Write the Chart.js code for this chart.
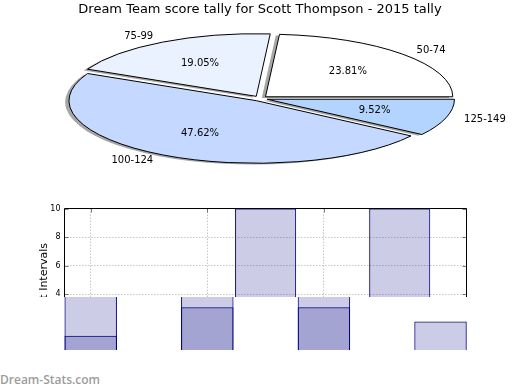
<!DOCTYPE html>
<html>
<head>
<meta charset="utf-8">
<title>Dream Team score tally</title>
<script src="https://cdn.jsdelivr.net/npm/chart.js@4.4.1/dist/chart.umd.min.js"></script>
<style>
    html, body { margin: 0; padding: 0; background: #fff; }
    #page { position: relative; width: 520px; height: 390px; overflow: hidden; }
    #page canvas { position: absolute; left: 0; }
    #pieChart { top: 0; }
    #countChart { top: 200px; }
    #overlapChart { top: 297px; background-color: #fff; }
    #watermark {
        position: absolute; left: 0; top: 373px;
        font: 600 12px "Open Sans", sans-serif; line-height: 14px; color: #9c9c9c;
    }
</style>
</head>
<body>
<div id="page">
    <canvas id="pieChart" width="520" height="185"></canvas>
    <canvas id="countChart" width="520" height="170"></canvas>
    <canvas id="overlapChart" width="520" height="68"></canvas>
    <div id="watermark">Dream-Stats.com</div>
</div>
<script>
//################# Chart values #################
const chartTitle = 'Dream Team score tally for Scott Thompson - 2015 tally';
const scoreBands = ['50-74', '75-99', '100-124', '125-149'];
const bandTally = [5, 4, 10, 2];        // games per score band (pie + light bars)
const overlapTally = [1, 3, 3, 0];      // second histogram layer (darker overlap)
const bandSlots = [1, 2, 3, 4];         // where each band sits on the bar x axis
const upperSlots = [2.5, 3.65];         // the two tall bars in the upper panel
const upperTally = [10, 10];
const gridSlots = [1, 2, 3];            // vertical dotted grid lines
const countTicks = [0, 2, 4, 6, 8, 10];
const countAxisTitle = 'Count Intervals';

//################# Styles #################
const sliceColors = ['#ffffff', '#eaf1ff', '#c5d8ff', '#b3d4ff'];
const BAR_FILL = 'rgba(0, 0, 128, 0.2)';
const BAR_EDGE = '#000080';
const GRID = 'rgba(0, 0, 0, 0.22)';

const PIE_RADIUS = 187.3;
const PIE_SQUASH = 62.6 / 187.3;   // height / width of the flattened pie
const PIE_EXPLODE = 7.5;           // px every slice is pushed out
const SHADOW_SHIFT = 0.02;         // shadow offset, part of the radius

Chart.defaults.font.family = '"DejaVu Sans", sans-serif';
Chart.defaults.color = '#000';
Chart.defaults.animation = false;
Chart.defaults.responsive = false;
Chart.defaults.devicePixelRatio = 1;
Chart.defaults.events = [];
Chart.defaults.plugins.legend.display = false;
Chart.defaults.plugins.tooltip.enabled = false;

//################# Flattened, exploded pie with shadow #################
const pieCenterY = chart => (chart.chartArea.top + chart.chartArea.bottom) / 2;

function squash(ctx, cy) {
    ctx.translate(0, cy);
    ctx.scale(1, PIE_SQUASH);
    ctx.translate(0, -cy);
}

const flatPie = {
    id: 'flatPie',
    afterDatasetUpdate(chart) {
        chart.getDatasetMeta(0).data.forEach(arc => {
            const mid = (arc.startAngle + arc.endAngle) / 2;
            arc.x += Math.cos(mid) * PIE_EXPLODE;
            arc.y += Math.sin(mid) * PIE_EXPLODE;
        });
    },
    beforeDatasetsDraw(chart) {
        const ctx = chart.ctx;
        const cy = pieCenterY(chart);
        const base = ctx.getTransform();

        // shadow pass, below every slice
        ctx.save();
        squash(ctx, cy);
        ctx.translate(-SHADOW_SHIFT * PIE_RADIUS, SHADOW_SHIFT * PIE_RADIUS);
        chart.getDatasetMeta(0).data.forEach(arc => {
            const opts = arc.options;
            arc.options = Object.assign({}, opts, { backgroundColor: 'rgba(77, 77, 77, 0.5)', borderWidth: 0 });
            arc.draw(ctx);
            arc.options = opts;
        });
        ctx.restore();

        // slices are squashed, but outlines are stroked unscaled so they stay 1px
        ctx.save();
        squash(ctx, cy);
        ctx.stroke = function () {
            this.save();
            this.setTransform(base);
            CanvasRenderingContext2D.prototype.stroke.call(this);
            this.restore();
        };
    },
    afterDatasetsDraw(chart) {
        delete chart.ctx.stroke;
        chart.ctx.restore();
    },
    afterDraw(chart) {
        const ctx = chart.ctx;
        const cy = pieCenterY(chart);
        const meta = chart.getDatasetMeta(0);
        const values = chart.data.datasets[0].data;
        const total = values.reduce((a, b) => a + b, 0);

        ctx.save();
        ctx.font = '10px "DejaVu Sans"';
        ctx.fillStyle = '#000';
        ctx.textBaseline = 'middle';
        meta.data.forEach((arc, i) => {
            const mid = (arc.startAngle + arc.endAngle) / 2;
            const at = f => [
                arc.x + Math.cos(mid) * arc.outerRadius * f,
                cy + (arc.y + Math.sin(mid) * arc.outerRadius * f - cy) * PIE_SQUASH,
            ];
            let [x, y] = at(0.6);
            ctx.textAlign = 'center';
            ctx.fillText((values[i] / total * 100).toFixed(2) + '%', x, y);
            [x, y] = at(1.1);
            ctx.textAlign = Math.cos(mid) > 0 ? 'left' : 'right';
            ctx.fillText(chart.data.labels[i], x, y);
        });
        ctx.restore();
    },
};

// matplotlib goes counter-clockwise from 3 o'clock, Chart.js clockwise: reverse the order
new Chart(document.getElementById('pieChart'), {
    type: 'pie',
    data: {
        labels: scoreBands.slice().reverse(),
        datasets: [{
            data: bandTally.slice().reverse(),
            backgroundColor: sliceColors.slice().reverse(),
            borderColor: '#000',
            borderWidth: 1,
            radius: PIE_RADIUS,
            rotation: 90,
            clip: false,
        }],
    },
    options: {
        layout: { padding: { bottom: 8.6 } },
        plugins: {
            title: {
                display: true,
                text: chartTitle,
                color: '#000',
                font: { size: 13, weight: 'normal' },
                padding: { top: 2, bottom: 3 },
            },
        },
    },
    plugins: [flatPie],
});

//################# Upper bar panel with its axes #################
const axesFrame = {
    id: 'axesFrame',
    afterDraw(chart) {
        const { ctx, chartArea: a, scales } = chart;
        const left = a.left + 0.5, right = a.right - 0.5, top = a.top;
        ctx.save();
        ctx.strokeStyle = '#000';
        ctx.lineWidth = 1;
        ctx.beginPath();
        ctx.moveTo(left, a.bottom);
        ctx.lineTo(left, top);
        ctx.lineTo(right, top);
        ctx.lineTo(right, a.bottom);
        ctx.stroke();

        // short inward tick marks
        ctx.strokeStyle = 'rgba(0, 0, 0, 0.5)';
        ctx.beginPath();
        scales.y.ticks.forEach(t => {
            const y = Math.round(scales.y.getPixelForValue(t.value)) + 0.5;
            ctx.moveTo(left, y); ctx.lineTo(left + 4, y);
            ctx.moveTo(right, y); ctx.lineTo(right - 4, y);
        });
        scales.x.ticks.forEach(t => {
            const x = Math.round(scales.x.getPixelForValue(t.value)) + 0.5;
            ctx.moveTo(x, top); ctx.lineTo(x, top + 4);
        });
        ctx.stroke();
        ctx.restore();
    },
};

const slotAxis = (ticks) => ({
    type: 'linear',
    min: 0.771,
    max: 4.227,
    offset: false,
    afterBuildTicks: s => { s.ticks = ticks.map(v => ({ value: v })); },
});

// the axis runs a little below zero; that part sits under the lower strip,
// and it centres the (cut off) axis title where the original has it
new Chart(document.getElementById('countChart'), {
    type: 'bar',
    data: {
        datasets: [{
            data: upperSlots.map((x, i) => ({ x, y: upperTally[i] })),
            backgroundColor: BAR_FILL,
            borderColor: BAR_EDGE,
            borderWidth: 1,
            barPercentage: 0.524,
            categoryPercentage: 1,
            clip: 0,
        }],
    },
    options: {
        layout: { padding: { left: 0, right: 53, top: 8.5, bottom: 8.5 } },
        scales: {
            x: Object.assign(slotAxis(gridSlots), {
                z: 1,
                afterFit: s => { s.height = 0; },
                ticks: { display: false },
                grid: { color: GRID, drawTicks: false, offset: false },
                border: { display: false, dash: [1.5, 1.5] },
            }),
            y: {
                min: -0.7,
                max: 10,
                z: 1,
                afterBuildTicks: s => { s.ticks = countTicks.map(v => ({ value: v })); },
                afterFit: s => { s.width = 64; },
                ticks: { font: { size: 8 }, color: '#000', padding: 3.5 },
                grid: { color: GRID, drawTicks: false },
                border: { display: false, dash: [1.5, 1.5] },
                title: {
                    display: true,
                    text: countAxisTitle,
                    color: '#000',
                    font: { size: 11 },
                    padding: { top: 38, bottom: 0 },
                },
            },
        },
    },
    plugins: [axesFrame],
});

//################# Lower strip: overlapping histograms #################
new Chart(document.getElementById('overlapChart'), {
    type: 'bar',
    data: {
        datasets: [bandTally, overlapTally].map(series => ({
            data: bandSlots.map((x, i) => ({ x, y: series[i] })),
            backgroundColor: BAR_FILL,
            borderColor: BAR_EDGE,
            borderWidth: 1,
            barPercentage: 0.45,
            categoryPercentage: 1,
            grouped: false,
            clip: 0,
        })),
    },
    options: {
        layout: { padding: { left: 64, right: 53, top: 0, bottom: 15 } },
        scales: {
            x: Object.assign(slotAxis(bandSlots), { display: false }),
            y: { min: 0, max: 3.73, display: false },
        },
    },
});
</script>
</body>
</html>
